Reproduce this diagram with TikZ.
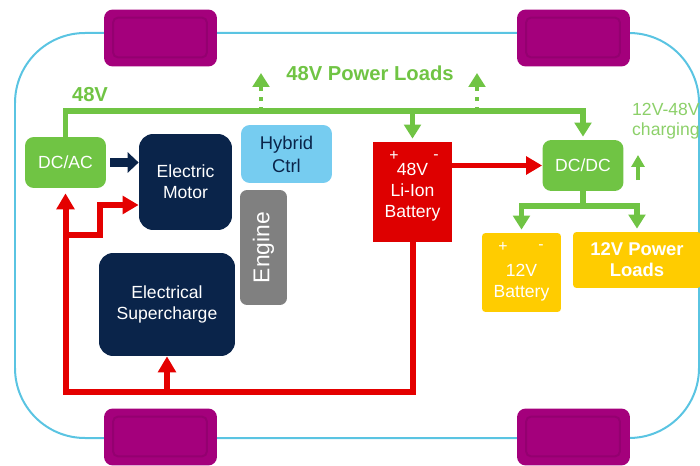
\documentclass[tikz,border=0pt]{standalone}
\usepackage{fontspec}
\setmainfont{Liberation Sans}
\usetikzlibrary{arrows.meta}
\definecolor{busgreen}{RGB}{112,196,68}
\definecolor{chargegreen}{RGB}{140,208,105}
\definecolor{motornavy}{RGB}{10,36,74}
\definecolor{ctrlblue}{RGB}{118,204,240}
\definecolor{enginegray}{RGB}{128,128,128}
\definecolor{batteryred}{RGB}{222,0,0}
\definecolor{wirered}{RGB}{228,0,0}
\definecolor{lowyellow}{RGB}{255,204,0}
\definecolor{wheelpurple}{RGB}{164,0,124}
\definecolor{wheelrim}{RGB}{148,0,112}
\definecolor{bodycyan}{RGB}{90,196,226}
\tikzset{
boxtext/.style={
  align=center,
  font=\fontsize{10}{12}\selectfont,
  text=white
}
}

\begin{document}
\begin{tikzpicture}[
    x=0.02cm, y=-0.02cm,
    % Estilos dos nós
    wheel/.style={
        rectangle,
        rounded corners=5pt,
        fill=wheelpurple,
        minimum width=2.26cm,
        minimum height=1.14cm,
        path picture={
            \draw[wheelrim, line width=0.4mm, rounded corners=3pt]
                ([shift={(0.18cm,-0.16cm)}]path picture bounding box.north west)
                rectangle ([shift={(-0.2cm,0.18cm)}]path picture bounding box.south east);
        }
    },
    convnode/.style={
        rectangle,
        rounded corners=5pt,
        fill=busgreen,
        minimum width=1.62cm,
        minimum height=1.02cm,
        boxtext
    },
    drivenode/.style={
        rectangle,
        rounded corners=8pt,
        fill=motornavy,
        boxtext
    },
    ctrlnode/.style={
        rectangle,
        rounded corners=5pt,
        fill=ctrlblue,
        minimum width=1.82cm,
        minimum height=1.16cm,
        boxtext,
        text=motornavy,
        font=\fontsize{10.5}{13}\selectfont
    },
    enginenode/.style={
        rectangle,
        rounded corners=4pt,
        fill=enginegray,
        rotate=90,
        minimum width=2.3cm,
        minimum height=0.94cm,
        boxtext,
        font=\fontsize{13}{15}\selectfont
    },
    hvbattnode/.style={
        rectangle,
        fill=batteryred,
        minimum width=1.58cm,
        minimum height=2.0cm,
        boxtext
    },
    lvnode/.style={
        rectangle,
        rounded corners=2pt,
        fill=lowyellow,
        boxtext
    },
    polelabel/.style={
        font=\fontsize{9}{9}\selectfont,
        text=white,
        inner sep=0pt
    },
    buslabel/.style={
        font=\bfseries\fontsize{11.5}{13}\selectfont,
        text=busgreen
    },
    chargelabel/.style={
        font=\fontsize{10}{11.5}\selectfont,
        text=chargegreen,
        align=left
    },
    bus/.style={draw=busgreen, line width=1.1mm},
    busarrow/.style={bus, shorten >=0.6mm, -{Triangle[length=2.8mm,width=3.3mm]}},
    loadarrow/.style={busarrow, line width=0.8mm, shorten >=0pt, dash pattern=on 0.8mm off 1.2mm},
    wire/.style={draw=wirered, line width=1.2mm},
    wirearrow/.style={wire, -{Triangle[length=3.2mm,width=3.5mm]}},
    drivearrow/.style={draw=motornavy, line width=2mm, shorten <=0.8mm, -{Triangle[length=2.2mm,width=4mm]}}
]
\useasboundingbox (0,0) rectangle (700,466);
\clip (0,0) rectangle (700,466);

% ============================================================================
% Carroceria e rodas
% ============================================================================
\draw[draw=bodycyan, line width=0.4mm, rounded corners=1.4cm] (15,33) rectangle (699,438);
\node[wheel] (wheelfl) at (160.5,38) {};
\node[wheel] (wheelfr) at (573.5,38) {};
\node[wheel] (wheelrl) at (160.5,437) {};
\node[wheel] (wheelrr) at (573.5,437) {};

% ============================================================================
% Blocos
% ============================================================================
\node[convnode] (dcac) at (65.5,162.5) {DC/AC};
\node[drivenode, minimum width=1.86cm, minimum height=1.92cm] (motor) at (185.5,182) {Electric\\Motor};
\node[ctrlnode] (hybrid) at (286.5,154) {Hybrid\\Ctrl};
\node[enginenode] (engine) at (263.5,247.5) {Engine};
\node[drivenode, minimum width=2.72cm, minimum height=2.06cm] (supercharge) at (167,304.5) {Electrical\\Supercharge};
\node[hvbattnode] (batt48) at (412.5,192) {48V\\Li-Ion\\Battery};
\node[polelabel] (plus48) at (394,156) {+};
\node[polelabel] (minus48) at (436,157) {-};
\node[convnode] (dcdc) at (583,165.5) {DC/DC};
\node[lvnode, minimum width=1.58cm, minimum height=1.58cm,
      label={[boxtext, yshift=-0.2cm]center:{12V\\Battery}}] (batt12) at (521.5,272.5) {};
\node[polelabel] (plus12) at (503,247) {+};
\node[polelabel] (minus12) at (541,247) {-};
\node[lvnode, minimum width=2.56cm, minimum height=1.12cm, font=\bfseries\fontsize{10.5}{12}\selectfont] (loads12) at (637,260) {12V Power\\Loads};

% ============================================================================
% Textos
% ============================================================================
\node[buslabel] (loadtitle) at (370,73) {48V Power Loads};
\node[buslabel] (bustitle) at (90,95) {48V};
\node[chargelabel, anchor=west] (chargetext) at (626,121) {12V-48V\\charging};

% ============================================================================
% Barramento 48V
% ============================================================================
\coordinate (busend) at (583,111);
\coordinate (loadtipA) at (261,73);
\coordinate (loadtipB) at (477,73);
\draw[busarrow] (dcac.north) |- (busend) -- (dcdc.north);
\draw[busarrow] (batt48.north |- busend) -- (batt48.north);
\draw[loadarrow] (loadtipA |- busend) -- (loadtipA);
\draw[loadarrow] (loadtipB |- busend) -- (loadtipB);

% ============================================================================
% Rede 12V
% ============================================================================
\coordinate (lvsplit) at (583,206);
\draw[bus] (dcdc.south) -- (lvsplit);
\draw[busarrow] (lvsplit) -| (batt12.north);
\draw[busarrow] (lvsplit) -| (loads12.north);
\coordinate (chargefoot) at (638,180);
\coordinate (chargetip) at (638,155);
\draw[busarrow, line width=0.8mm, shorten >=0pt, -{Triangle[length=2.4mm,width=2.6mm]}] (chargefoot) -- (chargetip);

% ============================================================================
% Ligações da bateria 48V
% ============================================================================
\coordinate (wirecorner) at (65.5,392);
\coordinate (wiretee) at (65.5,235);
\coordinate (wireknee) at (100,205);
\draw[wirearrow, shorten >=1mm] (batt48.south) |- (wirecorner) -- (dcac.south);
\draw[wirearrow] (wiretee) -| (wireknee) -- (motor.west |- wireknee);
\draw[wirearrow] (supercharge.south |- wirecorner) -- (supercharge.south);
\draw[wirearrow] (batt48.east |- dcdc.west) -- (dcdc.west);

% ============================================================================
% Acionamento
% ============================================================================
\draw[drivearrow] (dcac.east) -- (motor.west |- dcac.east);

\end{tikzpicture}
\end{document}
